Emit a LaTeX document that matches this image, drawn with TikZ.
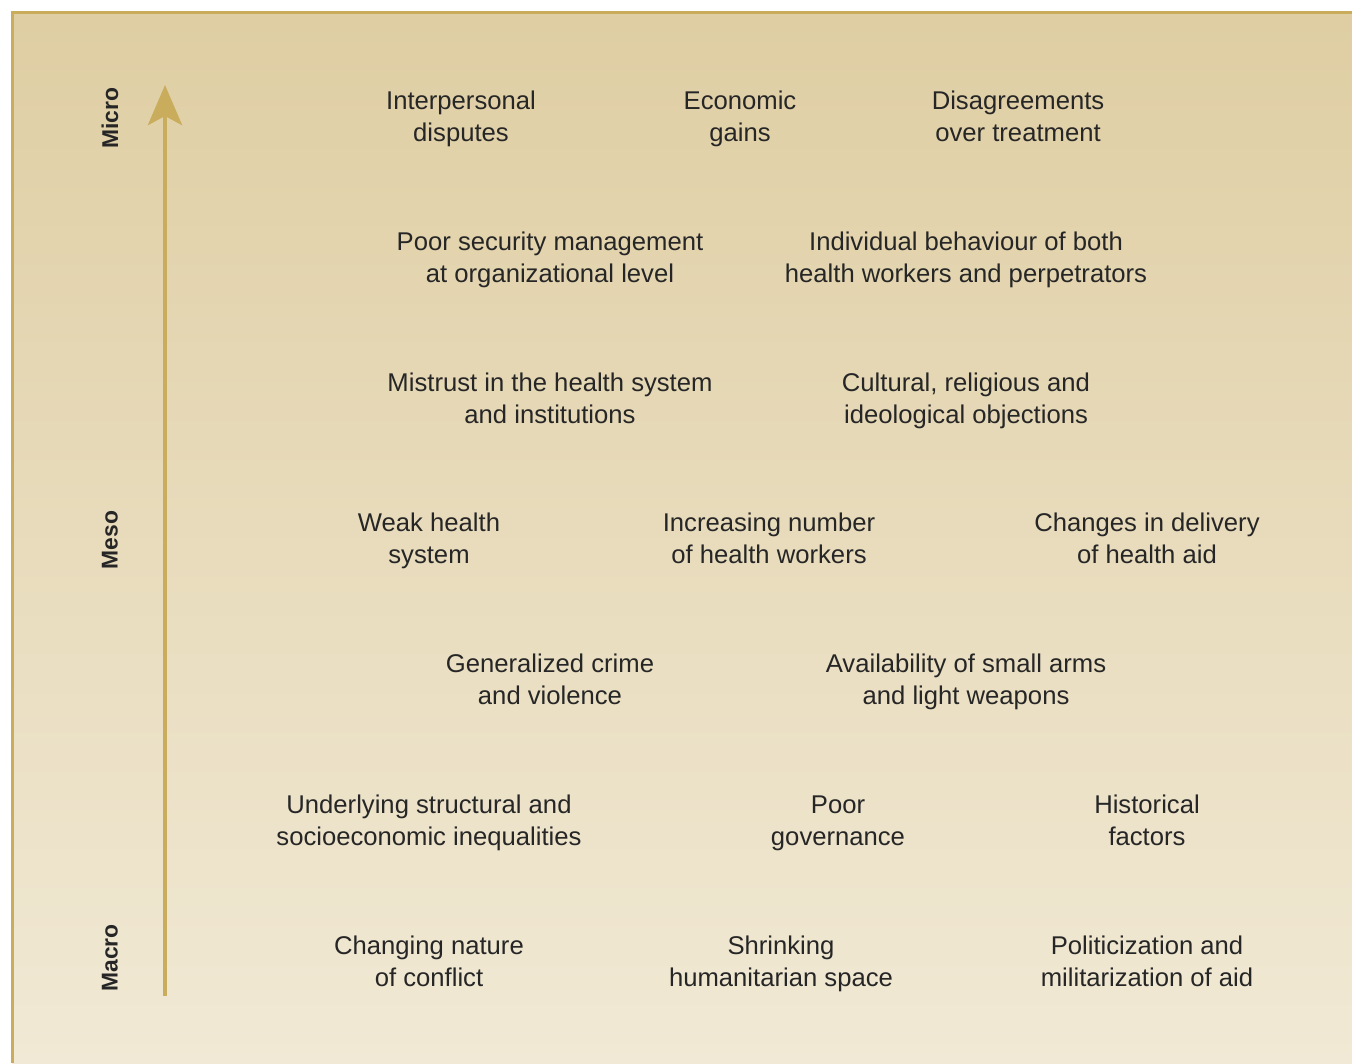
\documentclass[tikz,border=0pt]{standalone}
\usepackage{fontspec}
\setmainfont{Liberation Sans}
\usetikzlibrary{arrows.meta}
\definecolor{ink}{RGB}{38,38,38}
\definecolor{rim}{RGB}{201,172,92}
\definecolor{sandtop}{RGB}{223,206,163}
\definecolor{sandbot}{RGB}{241,233,213}
\tikzset{
  cause/.style={anchor=base,align=center,text=ink,inner sep=0pt,font=\fontsize{14.6}{18.2}\selectfont},
  level/.style={rotate=90,text=ink,inner sep=0pt,font=\bfseries\fontsize{13}{15}\selectfont},
  axis/.style={-{Stealth[length=8mm,width=6.8mm,inset=1.8mm]},rim,line width=2.8pt},
}
\begin{document}
\begin{tikzpicture}[x=0.02cm,y=-0.02cm]
  \useasboundingbox (0,0) rectangle (1352,1063);
  % panel
  \shade[top color=sandtop,bottom color=sandbot] (12,12) rectangle (1352,1063);
  \draw[rim,line width=1.2pt] (12.5,1063) -- (12.5,12.5) -- (1352,12.5);

  % scale
  \coordinate (base) at (165,996);
  \coordinate (apex) at (165,85);
  \draw[axis] (base) -- (apex);
  \node[level] (micro) at (110,118) {Micro};
  \node[level] (meso)  at (110,540) {Meso};
  \node[level] (macro) at (110,958) {Macro};

  % micro (y = baseline of the last line)
  \node[cause] (disputes) at (461,141) {Interpersonal\\disputes};
  \node[cause] (gains)    at (740,141) {Economic\\gains};
  \node[cause] (treat)    at (1018,141) {Disagreements\\over treatment};
  \node[cause] (security) at (550,282) {Poor security management\\at organizational level};
  \node[cause] (behav)    at (966,282) {Individual behaviour of both\\health workers and perpetrators};
  % meso
  \node[cause] (mistrust) at (550,423) {Mistrust in the health system\\and institutions};
  \node[cause] (objects)  at (966,423) {Cultural, religious and\\ideological objections};
  \node[cause] (weak)     at (429,563) {Weak health\\system};
  \node[cause] (workers)  at (769,563) {Increasing number\\of health workers};
  \node[cause] (delivery) at (1147,563) {Changes in delivery\\of health aid};
  \node[cause] (crime)    at (550,704) {Generalized crime\\and violence};
  \node[cause] (arms)     at (966,704) {Availability of small arms\\and light weapons};
  % macro
  \node[cause] (inequal)  at (429,845) {Underlying structural and\\socioeconomic inequalities};
  \node[cause] (govern)   at (838,845) {Poor\\governance};
  \node[cause] (history)  at (1147,845) {Historical\\factors};
  \node[cause] (conflict) at (429,986) {Changing nature\\of conflict};
  \node[cause] (space)    at (781,986) {Shrinking\\humanitarian space};
  \node[cause] (militar)  at (1147,986) {Politicization and\\militarization of aid};
\end{tikzpicture}
\end{document}
